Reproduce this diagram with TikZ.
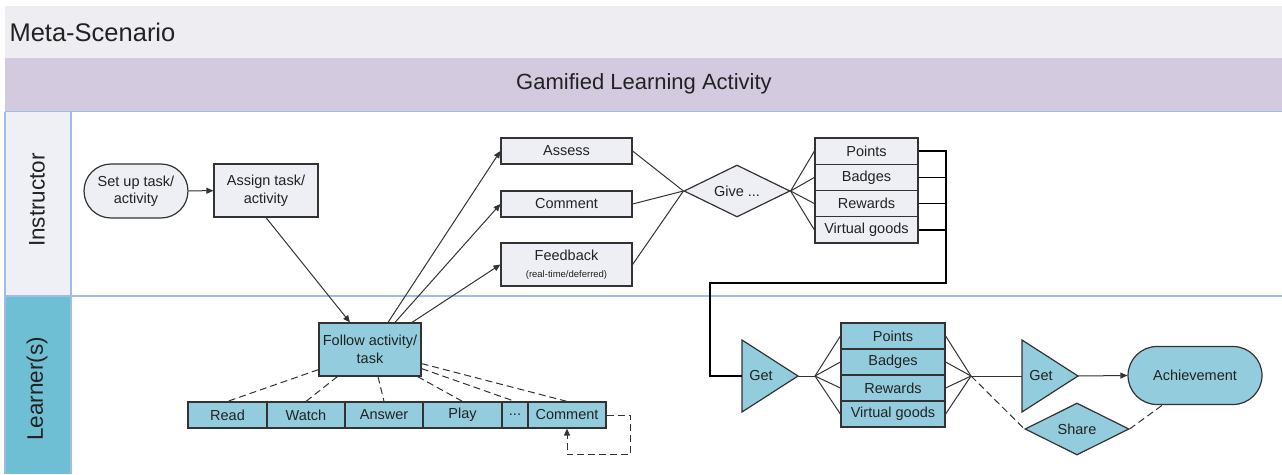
\documentclass[tikz,border=0pt]{standalone}
\usepackage{fontspec}
\setmainfont{Liberation Sans}
\usetikzlibrary{shapes.geometric,arrows.meta}
\definecolor{hdrgrey}{HTML}{EEEDF2}
\definecolor{hdrpurple}{HTML}{D3CADF}
\definecolor{lanerule}{HTML}{9DBDE6}
\definecolor{instrlabel}{HTML}{EEF0F6}
\definecolor{learnlabel}{HTML}{6EBFD4}
\definecolor{palefill}{HTML}{EDEFF5}
\definecolor{tealfill}{HTML}{93CDDD}
\definecolor{boxline}{HTML}{333333}
\definecolor{inktext}{HTML}{222222}

\begin{document}
\begin{tikzpicture}[x=1pt,y=-1pt,
  every node/.style={text=inktext},
  box/.style={draw=boxline, line width=1.2pt, inner sep=0pt, align=center,
    font=\fontsize{14.5}{17.5}\selectfont},
  pale/.style={box, fill=palefill},
  teal/.style={box, fill=tealfill},
  outline/.style={draw=boxline, line width=1.2pt},
  link/.style={draw=boxline, line width=1pt},
  dashlink/.style={link, dash pattern=on 7pt off 4pt},
  bus/.style={draw=black, line width=1.8pt},
  arr/.style={-{Triangle[length=7pt,width=6pt]}},
  lanetext/.style={font=\fontsize{22.5}{26}\selectfont, rotate=90}
]
\useasboundingbox (0,0) rectangle (1282,474);

% pool header and swim lanes
\fill[hdrgrey] (5,6) rectangle (1282,58);
\fill[hdrpurple] (5,58) rectangle (1282,111);
\fill[instrlabel] (5,112) rectangle (71,296);
\fill[learnlabel] (5,296) rectangle (71,474);
\draw[lanerule, line width=1.5pt] (5,111.5) -- (1282,111.5);
\draw[lanerule, line width=1.5pt] (5,296) -- (1282,296);
\draw[lanerule, line width=1.2pt] (5,111.5) -- (5,474);
\draw[lanerule, line width=1.2pt] (71,111.5) -- (71,474);

\node[anchor=west, font=\fontsize{25.5}{29}\selectfont] (metatitle) at (6,32) {Meta-Scenario};
\node[font=\fontsize{22}{26}\selectfont] (pooltitle) at (644,84) {Gamified Learning Activity};
\node[lanetext] (instrname) at (37,200) {Instructor};
\node[lanetext] (learnname) at (37,389) {Learner(s)};

% instructor lane
\node[pale, rounded corners=27pt, minimum width=104pt, minimum height=54pt] (setup) at (136,191) {Set up task/\\activity};
\node[pale, minimum width=104pt, minimum height=53pt] (assign) at (266,190.5) {Assign task/\\activity};
\node[pale, minimum width=131pt, minimum height=26pt] (assess) at (566.5,151) {Assess};
\node[pale, minimum width=131pt, minimum height=26pt] (icomment) at (566.5,204) {Comment};
\node[pale, minimum width=131pt, minimum height=43pt] (feedback) at (566.5,264.5)
  {Feedback\\[-1pt]{\fontsize{9.5}{11}\selectfont (real-time/deferred)}};
\node[pale, diamond, aspect=2, minimum width=106pt, minimum height=52pt] (give) at (737,191) {Give ...};
\node[pale, minimum width=103pt, minimum height=26.3pt] (ipoints) at (866.5,151.1) {Points};
\node[pale, minimum width=103pt, minimum height=26.3pt] (ibadges) at (866.5,177.4) {Badges};
\node[pale, minimum width=103pt, minimum height=26.3pt] (irewards) at (866.5,203.6) {Rewards};
\node[pale, minimum width=103pt, minimum height=26.3pt] (igoods) at (866.5,229.9) {Virtual goods};

% learner lane
\node[teal, minimum width=102pt, minimum height=53pt] (follow) at (370,349.5) {Follow activity/\\task};
\node[teal, minimum width=79pt, minimum height=26pt] (read) at (227.5,415) {Read};
\node[teal, minimum width=78pt, minimum height=26pt] (watch) at (306,415) {Watch};
\node[teal, minimum width=78pt, minimum height=26pt] (answer) at (384,415) {Answer};
\node[teal, minimum width=79pt, minimum height=26pt] (play) at (462.5,415) {Play};
\node[teal, minimum width=26pt, minimum height=26pt] (more) at (515,415) {...};
\node[teal, minimum width=78pt, minimum height=26pt] (lcomment) at (567,415) {Comment};

\fill[tealfill] (742,340) -- (798,376) -- (742,412) -- cycle;
\draw[outline] (742,340) -- (798,376) -- (742,412) -- cycle;
\coordinate (get1in) at (742,376);
\coordinate (get1out) at (798,376);
\node[font=\fontsize{14.5}{17}\selectfont] (get1) at (761,376) {Get};

\node[teal, minimum width=104pt, minimum height=26pt] (lpoints) at (893,336) {Points};
\node[teal, minimum width=104pt, minimum height=26pt] (lbadges) at (893,362) {Badges};
\node[teal, minimum width=104pt, minimum height=26pt] (lrewards) at (893,388) {Rewards};
\node[teal, minimum width=104pt, minimum height=26pt] (lgoods) at (893,414) {Virtual goods};

\fill[tealfill] (1022,340) -- (1078,376) -- (1022,412) -- cycle;
\draw[outline] (1022,340) -- (1078,376) -- (1022,412) -- cycle;
\coordinate (get2in) at (1022,376);
\coordinate (get2out) at (1078,376);
\node[font=\fontsize{14.5}{17}\selectfont] (get2) at (1041,376) {Get};

\node[teal, rounded corners=29pt, minimum width=134pt, minimum height=58pt] (achieve) at (1195,375.5) {Achievement};
\node[teal, diamond, aspect=2, minimum width=104pt, minimum height=52pt] (share) at (1077,429) {Share};

% connectors: instructor lane
\draw[link, arr] (setup) -- (assign);
\draw[link, arr] (assign.south) -- ([xshift=-20pt]follow.north);
\draw[link, arr] ([xshift=18pt]follow.north) -- (assess.west);
\draw[link, arr] ([xshift=25pt]follow.north) -- (icomment.west);
\draw[link, arr] ([xshift=42pt]follow.north) -- (feedback.west);
\foreach \src in {assess, icomment, feedback}
  \draw[link] (\src.east) -- (give.west);
\foreach \dst in {ipoints, ibadges, irewards, igoods}
  \draw[link] (give.east) -- (\dst.west);

% rewards handed over to the learner
\coordinate (bustop) at (946,151.1);
\coordinate (busfoot) at (946,283);
\coordinate (busdrop) at (710,283);
\draw[bus] (ipoints.east) -- (bustop) -- (busfoot) -- (busdrop) |- (get1in);
\foreach \src in {ibadges, irewards, igoods}
  \draw[link, line width=1.3pt, draw=black] (\src.east) -- (\src.east -| bustop);

% connectors: learner lane
\draw[dashlink] ([yshift=7pt]follow.south west) -- (read.north);
\draw[dashlink] ([xshift=19pt]follow.south west) -- (watch.north);
\draw[dashlink] ([xshift=8pt]follow.south) -- (answer.north);
\draw[dashlink] ([xshift=-4pt]follow.south east) -- (play.north);
\draw[dashlink] ([yshift=8pt]follow.south east) -- (more.north);
\draw[dashlink] ([yshift=13pt]follow.south east) -- (lcomment.north);
\draw[dashlink, arr] (lcomment.east) -- ++(24,0) |- ([yshift=-26pt]lcomment.south) -- (lcomment.south);

\coordinate (fanleft) at (815,376);
\coordinate (fanright) at (971,376);
\draw[link] (get1out) -- (fanleft);
\foreach \dst in {lpoints, lbadges, lrewards, lgoods} {
  \draw[link] (fanleft) -- (\dst.west);
  \draw[link] (\dst.east) -- (fanright);
}
\draw[link] (fanright) -- (get2in);
\draw[link, arr] (get2out) -- (achieve.west);
\draw[dashlink] (fanright) -- (share.west);
\draw[dashlink] (share.east) -- ([xshift=35pt]achieve.south west);
\end{tikzpicture}
\end{document}
